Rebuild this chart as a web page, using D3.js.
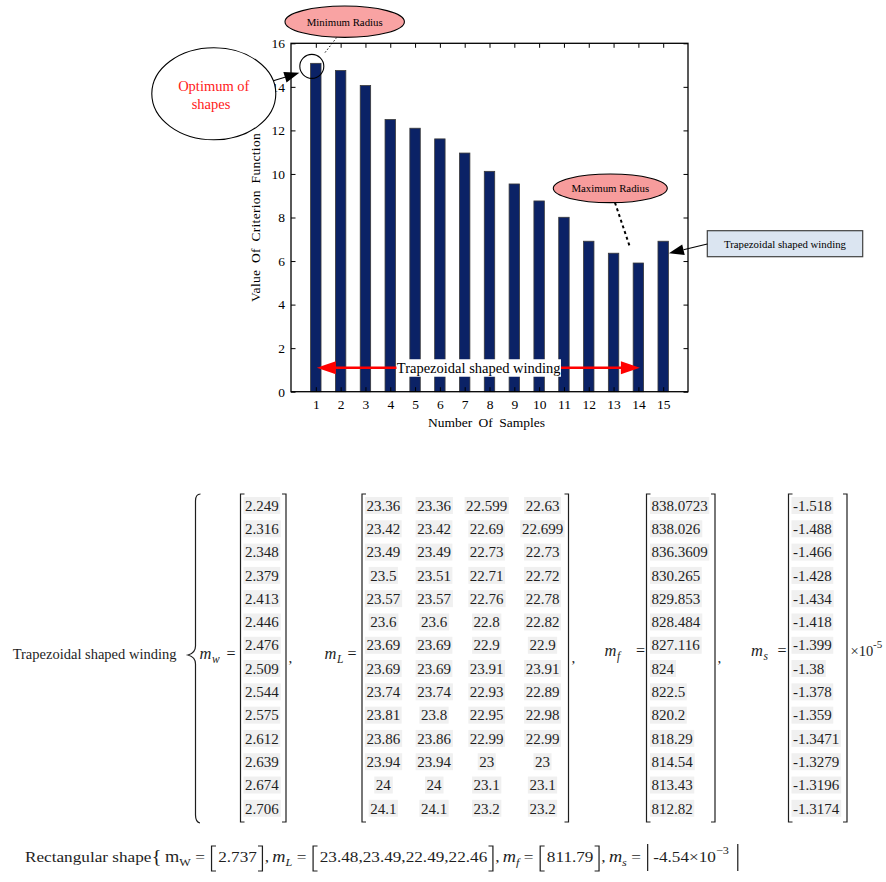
<!DOCTYPE html>
<html>
<head>
<meta charset="utf-8">
<script src="https://cdn.jsdelivr.net/npm/d3@7"></script>
<style>
  html, body { margin: 0; padding: 0; background: #fff; }
  svg { display: block; font-family: "Liberation Serif", "Times New Roman", serif; }
</style>
</head>
<body>
<svg id="fig" width="886" height="882"></svg>
<script>
// ---- Criterion function per sample ----
const samples = [1, 2, 3, 4, 5, 6, 7, 8, 9, 10, 11, 12, 13, 14, 15];
const criterion = [15.08, 14.75, 14.06, 12.50, 12.10, 11.61, 10.96, 10.12, 9.54, 8.76, 8.01, 6.91, 6.36, 5.91, 6.91];
const yTicks = [0, 2, 4, 6, 8, 10, 12, 14, 16];

// ---- Trapezoidal shaped winding parameters ----
const mw = [2.249, 2.316, 2.348, 2.379, 2.413, 2.446, 2.476, 2.509, 2.544, 2.575, 2.612, 2.639, 2.674, 2.706];
const mL = [
  [23.36, 23.36, 22.599, 22.63],
  [23.42, 23.42, 22.69, 22.699],
  [23.49, 23.49, 22.73, 22.73],
  [23.5, 23.51, 22.71, 22.72],
  [23.57, 23.57, 22.76, 22.78],
  [23.6, 23.6, 22.8, 22.82],
  [23.69, 23.69, 22.9, 22.9],
  [23.69, 23.69, 23.91, 23.91],
  [23.74, 23.74, 22.93, 22.89],
  [23.81, 23.8, 22.95, 22.98],
  [23.86, 23.86, 22.99, 22.99],
  [23.94, 23.94, 23, 23],
  [24, 24, 23.1, 23.1],
  [24.1, 24.1, 23.2, 23.2]
];
const mf = [838.0723, 838.026, 836.3609, 830.265, 829.853, 828.484, 827.116, 824, 822.5, 820.2, 818.29, 814.54, 813.43, 812.82];
const ms = [-1.518, -1.488, -1.466, -1.428, -1.434, -1.418, -1.399, -1.38, -1.378, -1.359, -1.3471, -1.3279, -1.3196, -1.3174];
const msExponent = -5;

// ---- Rectangular shape parameters ----
const rectMw = [2.737];
const rectML = [23.48, 23.49, 22.49, 22.46];
const rectMf = [811.79];
const rectMsMantissa = -4.54;
const rectMsExponent = -3;

const svg = d3.select("#fig");

// ================= Bar chart =================
const x = d3.scaleLinear().domain([0, 16]).range([291, 688]);
const y = d3.scaleLinear().domain([0, 16]).range([391.7, 43.3]);
const barW = x(0.42) - x(0);
const tickLen = 4.5;

const chart = svg.append("g");

// bars
chart.selectAll("rect.bar")
  .data(samples)
  .join("rect")
  .attr("class", "bar")
  .attr("x", d => x(d) - barW / 2)
  .attr("y", (d, i) => y(criterion[i]))
  .attr("width", barW)
  .attr("height", (d, i) => y(0) - y(criterion[i]))
  .attr("fill", "#0b2266")
  .attr("stroke", "#3a3a3a")
  .attr("stroke-width", 0.8);

// frame with inward ticks on all four sides
const axisStyle = g => {
  g.select(".domain").remove();
  g.selectAll("line").attr("stroke", "#000").attr("stroke-width", 1);
  g.selectAll("text").attr("font-family", "Liberation Serif, serif").attr("font-size", 13.5).attr("fill", "#000");
};

chart.append("g").attr("transform", `translate(${x(0)},0)`)
  .call(d3.axisRight(y).tickValues(yTicks).tickSize(tickLen).tickFormat(""))
  .call(axisStyle);
chart.append("g").attr("transform", `translate(${x(16)},0)`)
  .call(d3.axisLeft(y).tickValues(yTicks).tickSize(tickLen).tickFormat(""))
  .call(axisStyle);
chart.append("g").attr("transform", `translate(0,${y(16)})`)
  .call(d3.axisBottom(x).tickValues(samples).tickSize(tickLen).tickFormat(""))
  .call(axisStyle);
chart.append("g").attr("transform", `translate(0,${y(0)})`)
  .call(d3.axisTop(x).tickValues(samples).tickSize(tickLen).tickFormat(""))
  .call(axisStyle);

// tick labels
chart.append("g").attr("transform", `translate(${x(0)},0)`)
  .call(d3.axisLeft(y).tickValues(yTicks).tickSize(0).tickPadding(6).tickFormat(d3.format("d")))
  .call(axisStyle);
chart.append("g").attr("transform", `translate(0,${y(0)})`)
  .call(d3.axisBottom(x).tickValues(samples).tickSize(0).tickPadding(8).tickFormat(d3.format("d")))
  .call(axisStyle);

chart.append("rect")
  .attr("x", x(0)).attr("y", y(16))
  .attr("width", x(16) - x(0)).attr("height", y(0) - y(16))
  .attr("fill", "none").attr("stroke", "#000").attr("stroke-width", 1.3);

// axis titles
chart.append("text")
  .attr("x", (x(0) + x(16)) / 2 - 3).attr("y", 427)
  .attr("text-anchor", "middle").attr("font-size", 13.5)
  .attr("word-spacing", 3)
  .text("Number Of Samples");
chart.append("text")
  .attr("transform", `translate(260,${(y(0) + y(16)) / 2}) rotate(-90)`)
  .attr("text-anchor", "middle").attr("font-size", 13.5)
  .attr("word-spacing", 3).attr("letter-spacing", 0.3)
  .text("Value Of Criterion Function");

// ---- annotations ----
function arrowHead(g, x1, y1, x2, y2, len, half, color) {
  const a = Math.atan2(y2 - y1, x2 - x1);
  const bx = x2 - len * Math.cos(a), by = y2 - len * Math.sin(a);
  const px = -Math.sin(a) * half, py = Math.cos(a) * half;
  g.append("path")
    .attr("d", `M${x2},${y2}L${bx + px},${by + py}L${bx - px},${by - py}Z`)
    .attr("fill", color);
  return [bx, by];
}

const ann = svg.append("g");

// double headed red arrow spanning the trapezoidal samples
const arrowY = y(1.1);
const ax1 = x(1) + 1, ax2 = x(14) + 1.5;
ann.append("line")
  .attr("x1", ax1 + 10).attr("x2", ax2 - 10)
  .attr("y1", arrowY).attr("y2", arrowY)
  .attr("stroke", "#ff0000").attr("stroke-width", 2.6);
arrowHead(ann, ax2, arrowY, ax1, arrowY, 19, 6.5, "#ff0000");
arrowHead(ann, ax1, arrowY, ax2, arrowY, 19, 6.5, "#ff0000");
ann.append("rect")
  .attr("x", 396.5).attr("y", arrowY - 8.5)
  .attr("width", 164.5).attr("height", 17.5)
  .attr("fill", "#fff");
ann.append("text")
  .attr("x", 478.7).attr("y", arrowY + 5)
  .attr("text-anchor", "middle").attr("font-size", 14.5)
  .text("Trapezoidal shaped winding");

// minimum radius marker
const c1x = x(1) - 4, c1y = y(criterion[0]) + 3;
ann.append("circle")
  .attr("cx", c1x).attr("cy", c1y).attr("r", 12)
  .attr("fill", "none").attr("stroke", "#000").attr("stroke-width", 1.1);
ann.append("line")
  .attr("x1", 336.7).attr("y1", 37.5).attr("x2", 324.3).attr("y2", 53.5)
  .attr("stroke", "#000").attr("stroke-width", 1).attr("stroke-dasharray", "1.5,2");
ann.append("ellipse")
  .attr("cx", 344.7).attr("cy", 21.7).attr("rx", 59.7).attr("ry", 15.7)
  .attr("fill", "#f9a3a3").attr("stroke", "#000").attr("stroke-width", 1.1);
ann.append("text")
  .attr("x", 344.7).attr("y", 25.5).attr("text-anchor", "middle")
  .attr("font-size", 10.8).text("Minimum Radius");

// optimum callout
ann.append("ellipse")
  .attr("cx", 213.8).attr("cy", 93.8).attr("rx", 62).attr("ry", 46)
  .attr("fill", "#fff").attr("stroke", "#000").attr("stroke-width", 1.1);
ann.append("text")
  .attr("x", 213.8).attr("y", 90.5).attr("text-anchor", "middle")
  .attr("font-size", 14.5).attr("fill", "#ff2020").text("Optimum of");
ann.append("text")
  .attr("x", 211).attr("y", 108.5).attr("text-anchor", "middle")
  .attr("font-size", 14.5).attr("fill", "#ff2020").text("shapes");
{
  const [bx, by] = arrowHead(ann, 273.3, 80.7, c1x - 12.5, c1y + 6.5, 15, 5.5, "#000");
  ann.append("line").attr("x1", 273.3).attr("y1", 80.7).attr("x2", bx).attr("y2", by)
    .attr("stroke", "#000").attr("stroke-width", 1.1);
}

// maximum radius callout
ann.append("line")
  .attr("x1", 615).attr("y1", 202.7).attr("x2", 630).attr("y2", 247.3)
  .attr("stroke", "#000").attr("stroke-width", 2).attr("stroke-dasharray", "3,3");
ann.append("ellipse")
  .attr("cx", 610.3).attr("cy", 188.3).attr("rx", 57).attr("ry", 14.3)
  .attr("fill", "#f79c9c").attr("stroke", "#000").attr("stroke-width", 1.1);
ann.append("text")
  .attr("x", 610.3).attr("y", 191.8).attr("text-anchor", "middle")
  .attr("font-size", 10.8).text("Maximum Radius");

// trapezoidal winding box pointing at sample 15
ann.append("rect")
  .attr("x", 707.3).attr("y", 230.7).attr("width", 155.4).attr("height", 26)
  .attr("fill", "#dbe5f1").attr("stroke", "#404040").attr("stroke-width", 1.2);
ann.append("text")
  .attr("x", 785).attr("y", 247.5).attr("text-anchor", "middle")
  .attr("font-size", 10.8).text("Trapezoidal shaped winding");
{
  const tx = x(15) + barW / 2 + 0.5, ty = 253.3;
  const [bx, by] = arrowHead(ann, 707.3, 244, tx, ty, 15, 5.5, "#000");
  ann.append("line").attr("x1", 707.3).attr("y1", 244).attr("x2", bx).attr("y2", by)
    .attr("stroke", "#000").attr("stroke-width", 1.1);
}

// ================= Parameter matrices =================
const eq = svg.append("g").attr("fill", "#1e1e1e");
const ink = "#1e1e1e";
const row = d3.scaleLinear().domain([0, 13]).range([505.5, 808.3]);
const mTop = 494, mBot = 822;
const numSize = 15;

function bracket(g, x0, x1, y0, y1) {
  g.append("path").attr("d", `M${x0 + 4},${y0}H${x0}V${y1}H${x0 + 4}`)
    .attr("fill", "none").attr("stroke", ink).attr("stroke-width", 1.2);
  g.append("path").attr("d", `M${x1 - 4},${y0}H${x1}V${y1}H${x1 - 4}`)
    .attr("fill", "none").attr("stroke", ink).attr("stroke-width", 1.2);
}

function column(g, values, xPos, anchor) {
  const cells = g.append("g");
  values.forEach((v, i) => {
    const t = cells.append("text")
      .attr("x", xPos).attr("y", row(i) + 5.2)
      .attr("text-anchor", anchor).attr("font-size", numSize)
      .text(String(v));
    const b = t.node().getBBox();
    cells.insert("rect", "text")
      .attr("x", b.x - 1.5).attr("y", row(i) - 8.5)
      .attr("width", b.width + 3).attr("height", 17)
      .attr("fill", "#f0f0f0");
  });
}

function symbol(g, xPos, base, sub, subItalic) {
  g.append("text").attr("x", xPos).attr("y", base)
    .attr("font-size", 16.5).attr("font-style", "italic").text("m");
  g.append("text").attr("x", xPos + 12.5).attr("y", base + 4)
    .attr("font-size", 11.5).attr("font-style", subItalic ? "italic" : null).text(sub);
}

const eqBase = 659;
eq.append("text").attr("x", 12.7).attr("y", eqBase)
  .attr("font-size", 14.5).text("Trapezoidal shaped winding");

// tall curly brace
eq.append("path")
  .attr("d", "M200.5,494 Q195.5,494 195.5,501 L195.5,646 Q195.5,653 188,655 Q195.5,657 195.5,664 L195.5,815 Q195.5,822 200,823")
  .attr("fill", "none").attr("stroke", ink).attr("stroke-width", 1.2);

// m_w
symbol(eq, 199.5, eqBase, "w", true);
eq.append("text").attr("x", 226.5).attr("y", eqBase).attr("font-size", 16).text("=");
bracket(eq, 240.5, 286, mTop, mBot);
column(eq, mw, 245, "start");
eq.append("text").attr("x", 288.5).attr("y", eqBase + 4).attr("font-size", 15).text(",");

// m_L
symbol(eq, 324.5, eqBase, "L", true);
eq.append("text").attr("x", 347.5).attr("y", eqBase).attr("font-size", 16).text("=");
bracket(eq, 362, 568.5, mTop, mBot);
[383.3, 434, 486.7, 542.5].forEach((cx, j) => column(eq, mL.map(r => r[j]), cx, "middle"));
eq.append("text").attr("x", 571.5).attr("y", eqBase + 4).attr("font-size", 15).text(",");

// m_f
symbol(eq, 604.5, eqBase - 3, "f", true);
eq.append("text").attr("x", 636).attr("y", eqBase - 3).attr("font-size", 16).text("=");
bracket(eq, 646.5, 715, mTop, mBot);
column(eq, mf, 651.5, "start");
eq.append("text").attr("x", 717.5).attr("y", eqBase + 4).attr("font-size", 15).text(",");

// m_s
symbol(eq, 751, eqBase - 3, "s", true);
eq.append("text").attr("x", 777.5).attr("y", eqBase - 3).attr("font-size", 16).text("=");
bracket(eq, 788.5, 847, mTop, mBot);
column(eq, ms, 793, "start");
eq.append("text").attr("x", 850.5).attr("y", eqBase - 3).attr("font-size", 14.5).text("×10");
eq.append("text").attr("x", 873).attr("y", eqBase - 11).attr("font-size", 11).text(String(msExponent));

// ---- rectangular shape line ----
const rl = svg.append("g").attr("fill", ink);
const rBase = 862;
const rStart = 25, rEnd = 740;
const rParts = [
  { text: "Rectangular shape", size: 15.5 },
  { text: "{", size: 19, dy: 1 },
  { gap: 3 },
  { text: "m", size: 16.5 },
  { text: "W", size: 11, dy: 4 },
  { gap: 4 }, { text: "=", size: 15.5 }, { gap: 4 },
  { open: "[" }, { text: String(rectMw[0]), size: 15.5 }, { close: "]" },
  { text: ",", size: 15.5 }, { gap: 3 },
  { text: "m", size: 16.5, italic: true },
  { text: "L", size: 11, dy: 4, italic: true },
  { gap: 4 }, { text: "=", size: 15.5 }, { gap: 4 },
  { open: "[" }, { text: rectML.join(","), size: 15.5 }, { close: "]" },
  { text: ",", size: 15.5 }, { gap: 3 },
  { text: "m", size: 16.5, italic: true },
  { text: "f", size: 11, dy: 4, italic: true },
  { gap: 4 }, { text: "=", size: 15.5 }, { gap: 4 },
  { open: "[" }, { text: String(rectMf[0]), size: 15.5 }, { close: "]" },
  { text: ",", size: 15.5 }, { gap: 3 },
  { text: "m", size: 16.5, italic: true },
  { text: "s", size: 11, dy: 4, italic: true },
  { gap: 4 }, { text: "=", size: 15.5 }, { gap: 4 },
  { bar: true }, { gap: 3 },
  { text: String(rectMsMantissa) + "×10", size: 15.5 },
  { text: "−" + Math.abs(rectMsExponent), size: 11, dy: -8 },
  { gap: 6 }, { bar: true }
];
let cx = rStart;
rParts.forEach(p => {
  if (p.gap) { cx += p.gap; return; }
  if (p.open) {
    rl.append("path").attr("d", `M${cx + 6},${rBase - 16}H${cx + 2}V${rBase + 9}H${cx + 6}`)
      .attr("fill", "none").attr("stroke", ink).attr("stroke-width", 1.1);
    cx += 8; return;
  }
  if (p.close) {
    rl.append("path").attr("d", `M${cx + 1},${rBase - 16}H${cx + 5}V${rBase + 9}H${cx + 1}`)
      .attr("fill", "none").attr("stroke", ink).attr("stroke-width", 1.1);
    cx += 7; return;
  }
  if (p.bar) {
    rl.append("path").attr("d", `M${cx + 2},${rBase - 18}V${rBase + 9}`)
      .attr("fill", "none").attr("stroke", ink).attr("stroke-width", 1.1);
    cx += 4; return;
  }
  const t = rl.append("text").attr("x", cx).attr("y", rBase + (p.dy || 0))
    .attr("font-size", p.size).attr("font-style", p.italic ? "italic" : null).text(p.text);
  cx += t.node().getComputedTextLength();
});
const sx = (rEnd - rStart) / (cx - rStart);
rl.attr("transform", `translate(${rStart},0) scale(${sx},1) translate(${-rStart},0)`);
</script>
</body>
</html>
